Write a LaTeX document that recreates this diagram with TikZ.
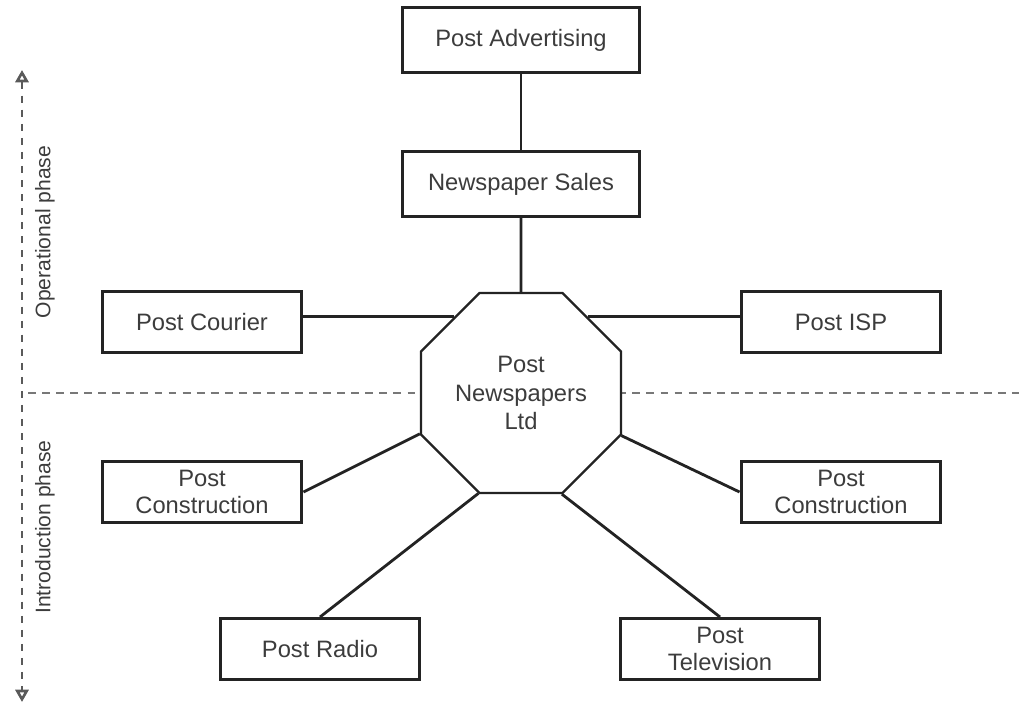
\documentclass[tikz,border=0pt]{standalone}
\usepackage{fontspec}
\setmainfont{Liberation Sans}
\usetikzlibrary{shapes.geometric, arrows.meta}
\definecolor{textgrey}{RGB}{60, 60, 60}
\definecolor{edgegrey}{RGB}{35, 35, 35}
\definecolor{dashgrey}{RGB}{120, 120, 120}
\tikzset{
    unitbox/.style={draw=edgegrey, line width=1.7pt, fill=white,
        text=textgrey, align=center, inner sep=0pt, minimum width=4cm,
        minimum height=1.22cm, font=\fontsize{13.5}{15.5}\selectfont},
    widebox/.style={unitbox, minimum width=4.76cm, minimum height=1.3cm},
    hub/.style={draw=edgegrey, line width=1.3pt, fill=white, text=textgrey,
        regular polygon, regular polygon sides=8, minimum size=4.33cm,
        inner sep=0pt, align=center, font=\fontsize{13.5}{16.2}\selectfont},
    link/.style={draw=edgegrey, line width=1.6pt},
    phaselabel/.style={rotate=90, text=textgrey,
        font=\fontsize{12}{14}\selectfont},
    phasetip/.tip={Triangle[open, length=7pt, width=7.5pt, line width=1.5pt]},
}

\begin{document}
\begin{tikzpicture}[x=.02cm, y=-.02cm]
    \useasboundingbox (0, 0) rectangle (1019, 713);
    \coordinate (arrowtop) at (22, 70);
    \coordinate (arrowbot) at (22, 702);
    \coordinate (divleft) at (28, 393);
    \coordinate (divright) at (1019, 393);

    % phase split
    \draw[dashgrey, line width=1.2pt, dash pattern=on 4.5pt off 3.5pt]
        (divleft) -- (divright);
    \draw[edgegrey!75, line width=1.4pt, dash pattern=on 4pt off 4pt,
        phasetip-phasetip] (arrowtop) -- (arrowbot);
    \node[phaselabel] (opphase) at (45, 232) {Operational phase};
    \node[phaselabel] (inphase) at (45, 527) {Introduction phase};

    \node[hub] (hub) at (521, 393) {Post\\Newspapers\\Ltd};
    \node[widebox] (advert) at (521, 40) {Post Advertising};
    \node[widebox] (sales) at (521, 184) {Newspaper Sales};
    \node[unitbox] (courier) at (202, 322) {Post Courier};
    \node[unitbox] (isp) at (841, 322) {Post ISP};
    \node[unitbox] (conleft) at (202, 492) {Post\\Construction};
    \node[unitbox] (conright) at (841, 492) {Post\\Construction};
    \node[unitbox] (radio) at (320, 649) {Post Radio};
    \node[unitbox] (telly) at (720, 649) {Post\\Television};

    \draw[link] (advert) -- (sales);
    \draw[link] (sales) -- (hub);
    \draw[link] (hub.131) -- (hub.131 -| courier.east);
    \draw[link] (hub.49) -- (hub.49 -| isp.west);
    \foreach \unit/\corner in {conleft.east/202.5, conright.west/337.5,
        radio.north/247.5, telly.north/292.5}{
        \draw[link] (\unit) -- (hub.\corner);
    }
\end{tikzpicture}
\end{document}
